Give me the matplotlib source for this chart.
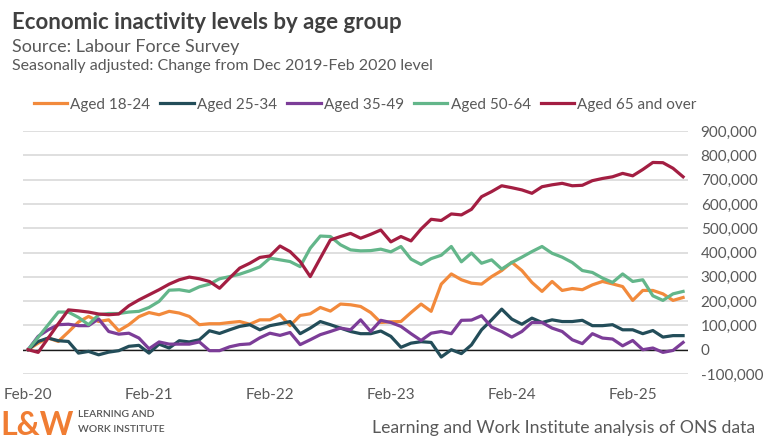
"""Economic inactivity levels by age group (L&W chart recreation)."""
import matplotlib
matplotlib.use("Agg")
import matplotlib.pyplot as plt
import numpy as np
import pandas as pd
from matplotlib.ticker import FuncFormatter

plt.rcParams["font.family"] = ["Lato", "DejaVu Sans"]

# Monthly rolling-quarter readings, Feb-20 .. Jul-25, change from Dec19-Feb20 (thousands)
months = pd.date_range("2020-02-01", periods=66, freq="MS")

aged_18_24 = [
    0, 27, 48, 34, 73, 114, 137, 116, 123, 78, 103, 136, 153, 144, 158, 151,
    137, 103, 107, 107, 112, 116, 105, 123, 123, 144, 99, 141, 148, 174, 159,
    188, 185, 178, 153, 112, 115, 116, 153, 188, 158, 270, 312, 288, 274, 270,
    301, 326, 360, 326, 277, 240, 281, 244, 252, 247, 267, 281, 271, 260, 203,
    244, 244, 230, 203, 215,
]
aged_25_34 = [
    0, 34, 48, 37, 34, -14, -7, -21, -10, -4, 14, 18, -14, 23, 7, 37, 32, 41,
    78, 67, 82, 96, 103, 82, 99, 107, 116, 66, 89, 116, 103, 89, 75, 66, 66,
    77, 55, 10, 27, 33, 30, -30, 0, -16, 20, 82, 123, 167, 126, 105, 130, 112,
    123, 116, 116, 121, 99, 99, 103, 82, 82, 66, 79, 52, 58, 58,
]
aged_35_49 = [
    0, 55, 82, 103, 105, 99, 99, 127, 75, 64, 68, 48, 4, 32, 23, 23, 23, 32,
    -4, -4, 12, 21, 24, 49, 68, 59, 71, 21, 41, 62, 75, 89, 82, 123, 75, 121,
    112, 96, 66, 38, 68, 75, 66, 121, 122, 140, 93, 75, 52, 75, 112, 112, 89,
    75, 41, 25, 66, 48, 44, 16, 38, 0, 7, -11, -3, 30,
]
aged_50_64 = [
    0, 51, 103, 155, 155, 133, 103, 144, 149, 149, 155, 158, 174, 199, 245,
    247, 240, 259, 270, 292, 301, 311, 325, 341, 377, 370, 363, 342, 418, 468,
    466, 432, 411, 407, 408, 414, 403, 425, 373, 351, 375, 389, 425, 362, 398,
    356, 370, 332, 359, 381, 404, 425, 397, 381, 359, 326, 318, 295, 277, 312,
    281, 288, 222, 203, 230, 240,
]
aged_65_plus = [
    0, -11, 48, 107, 164, 160, 155, 147, 144, 147, 181, 205, 226, 247, 270,
    288, 299, 292, 281, 253, 295, 336, 356, 380, 386, 427, 404, 363, 301, 377,
    452, 466, 479, 459, 475, 493, 444, 466, 448, 497, 537, 532, 559, 555, 578,
    630, 651, 675, 667, 658, 644, 671, 679, 685, 675, 677, 696, 705, 712, 726,
    716, 742, 771, 770, 747, 712,
]

series_names = ["Aged 18-24", "Aged 25-34", "Aged 35-49", "Aged 50-64", "Aged 65 and over"]
series_values = [aged_18_24, aged_25_34, aged_35_49, aged_50_64, aged_65_plus]
series_colors = ["#F28A3C", "#234D59", "#7C3D98", "#63B68A", "#A31E42"]

y_ticks = np.arange(-100_000, 900_001, 100_000)
grey = "#595959"


def main() -> None:
    fig = plt.figure(figsize=(7.68, 4.40), dpi=100)
    ax = fig.add_axes([0.030, 0.150, 0.866, 0.552])

    x = np.arange(len(months))
    for name, vals, col in zip(series_names, series_values, series_colors):
        ax.plot(x, np.array(vals) * 1000, color=col, lw=2.3, label=name,
                solid_joinstyle="round", zorder=3)

    ax.set_xlim(-0.5, len(months) - 0.5)
    ax.set_ylim(y_ticks[0], y_ticks[-1])
    ax.set_yticks(y_ticks)
    ax.yaxis.set_major_formatter(FuncFormatter(lambda v, _: f"{int(v):,}"))
    ax.yaxis.tick_right()
    ax.grid(axis="y", color="#dcdcdc", lw=1.3, zorder=0)
    ax.axhline(0, color="#1a1a1a", lw=1.0, zorder=2)

    tick_idx = x[::12]
    ax.set_xticks(tick_idx)
    ax.set_xticklabels([m.strftime("%b-%y") for m in months[::12]])
    ax.tick_params(axis="both", length=0, labelsize=11, labelcolor=grey)
    ax.tick_params(axis="y", pad=9)
    ax.tick_params(axis="x", pad=10)
    for s in ax.spines.values():
        s.set_visible(False)

    # Titles
    fig.text(0.016, 0.935, "Economic inactivity levels by age group",
             fontsize=16, fontweight="bold", color="#404040")
    fig.text(0.016, 0.882, "Source: Labour Force Survey", fontsize=13, color=grey)
    fig.text(0.016, 0.84, "Seasonally adjusted: Change from Dec 2019-Feb 2020 level",
             fontsize=11.5, color=grey)

    fig.legend(loc="center left", bbox_to_anchor=(0.026, 0.762), ncol=5,
               frameon=False, fontsize=11, handlelength=2.2, handletextpad=0.2,
               columnspacing=0.65, labelcolor=grey)

    # Footer: wordmark and credit
    fig.text(0.0, 0.012, "L&W", fontsize=23, fontweight="bold", color="#F07D33")
    fig.text(0.102, 0.052, "LEARNING AND", fontsize=7.5, fontweight="semibold",
             color="#555555")
    fig.text(0.102, 0.018, "WORK INSTITUTE", fontsize=7.5, fontweight="semibold",
             color="#555555")
    fig.text(0.983, 0.016, "Learning and Work Institute analysis of ONS data",
             fontsize=12.7, color=grey, ha="right")

    fig.savefig("out.png", dpi=100)


if __name__ == "__main__":
    main()
